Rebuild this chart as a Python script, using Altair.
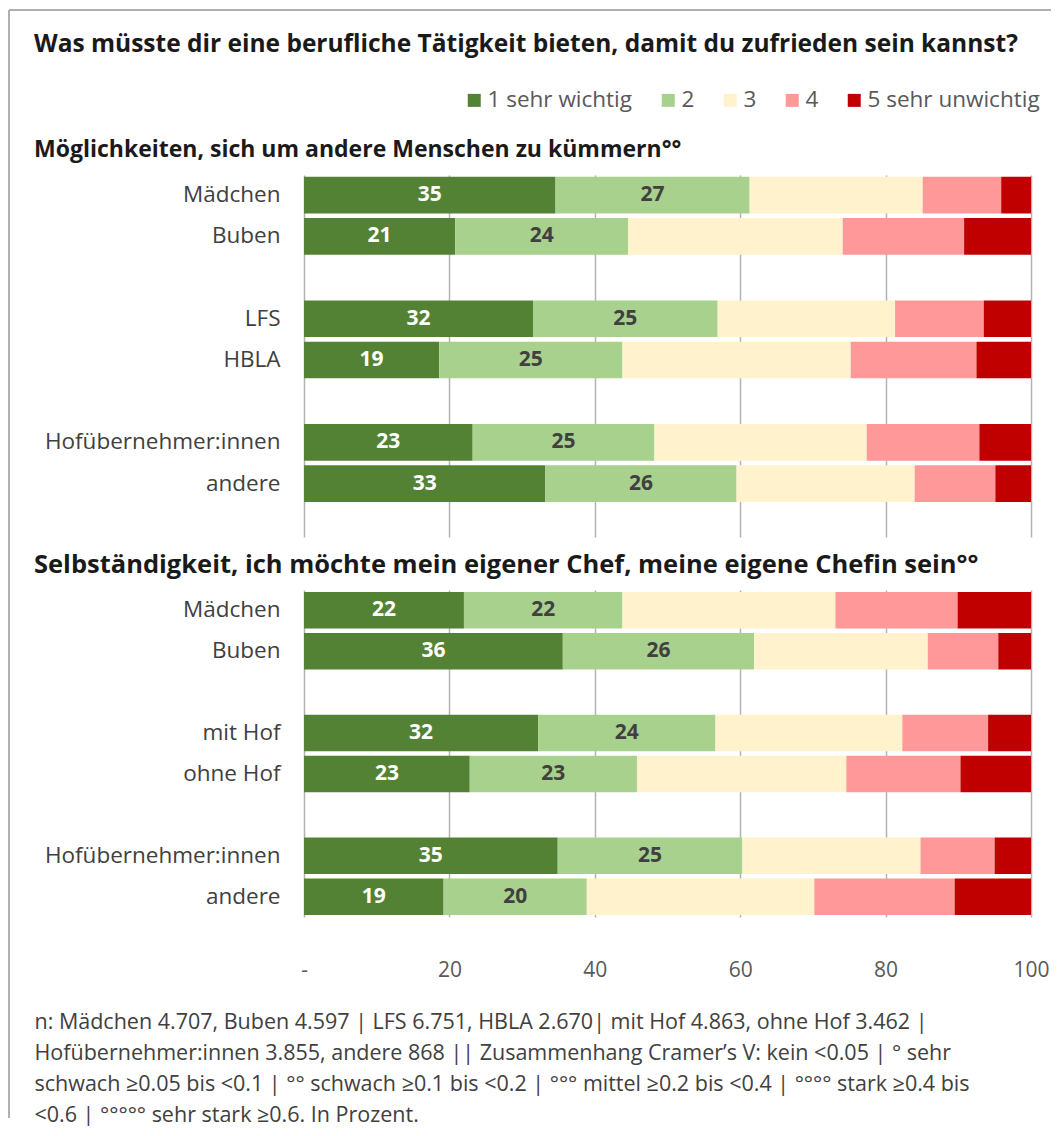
import altair as alt
import pandas as pd

# ---------------- data ----------------
categories = ["1 sehr wichtig", "2", "3", "4", "5 sehr unwichtig"]
colors = ["#548235", "#a9d18e", "#fff2cc", "#ff9999", "#c00000"]

title_main = "Was müsste dir eine berufliche Tätigkeit bieten, damit du zufrieden sein kannst?"
title_p1 = "Möglichkeiten, sich um andere Menschen zu kümmern°°"
title_p2 = "Selbständigkeit, ich möchte mein eigener Chef, meine eigene Chefin sein°°"

rows1 = ["Mädchen", "Buben", "_g1", "LFS", "HBLA", "_g2", "Hofübernehmer:innen", "andere"]
groups1 = ["Mädchen", "Buben", "LFS", "HBLA", "Hofübernehmer:innen", "andere"]
p1_v1 = [34.6, 20.8, 31.5, 18.6, 23.2, 33.2]
p1_v2 = [26.7, 23.8, 25.4, 25.2, 25.0, 26.3]
p1_v3 = [23.8, 29.5, 24.4, 31.4, 29.2, 24.5]
p1_v4 = [10.8, 16.7, 12.2, 17.3, 15.5, 11.1]
p1_v5 = [4.1, 9.2, 6.5, 7.5, 7.1, 4.9]

rows2 = ["Mädchen", "Buben", "_g1", "mit Hof", "ohne Hof", "_g2", "Hofübernehmer:innen", "andere"]
groups2 = ["Mädchen", "Buben", "mit Hof", "ohne Hof", "Hofübernehmer:innen", "andere"]
p2_v1 = [22.0, 35.6, 32.2, 22.8, 34.9, 19.2]
p2_v2 = [21.8, 26.3, 24.4, 23.0, 25.4, 19.7]
p2_v3 = [29.3, 23.9, 25.7, 28.8, 24.5, 31.3]
p2_v4 = [16.8, 9.7, 11.8, 15.7, 10.2, 19.3]
p2_v5 = [10.1, 4.5, 5.9, 9.7, 5.0, 10.5]

x_ticks = [0, 20, 40, 60, 80, 100]

footnote = [
    "n: Mädchen 4.707, Buben 4.597 | LFS 6.751, HBLA 2.670| mit Hof 4.863, ohne Hof 3.462 |",
    "Hofübernehmer:innen 3.855, andere 868 || Zusammenhang Cramer’s V: kein <0.05 | ° sehr",
    "schwach ≥0.05 bis <0.1 | °° schwach ≥0.1 bis <0.2 | °°° mittel ≥0.2 bis <0.4 | °°°° stark ≥0.4 bis",
    "<0.6 | °°°°° sehr stark ≥0.6. In Prozent.",
]

FONT = "Open Sans"
W = 727


def build_df(groups, series):
    recs = []
    for i, g in enumerate(groups):
        start = 0.0
        for k, cat in enumerate(categories):
            v = series[k][i]
            recs.append(dict(group=g, cat=cat, order=k, start=start, end=start + v,
                             mid=start + v / 2, value=v,
                             label=str(int(v + 0.5)) if k < 2 else ""))
            start += v
    return pd.DataFrame(recs)


df1 = build_df(groups1, [p1_v1, p1_v2, p1_v3, p1_v4, p1_v5])
df2 = build_df(groups2, [p2_v1, p2_v2, p2_v3, p2_v4, p2_v5])

color_scale = alt.Scale(domain=categories, range=colors)


def panel(df, rows, height, po, align, xaxis, title):
    yenc = alt.Y(
        "group:N", sort=rows,
        scale=alt.Scale(domain=rows, paddingInner=0.11, paddingOuter=po, align=align),
        axis=alt.Axis(title=None, ticks=False, domain=False,
                      labelExpr="indexof(datum.value, '_') == 0 ? '' : datum.value",
                      labelFontSize=22.5, labelFont=FONT, labelColor="#404040",
                      labelPadding=24, labelLimit=400),
    )
    bars = alt.Chart(df).mark_bar(strokeWidth=0).encode(
        x=alt.X("start:Q", scale=alt.Scale(domain=[0, 100], nice=False), axis=xaxis),
        x2="end:Q",
        y=yenc,
        color=alt.Color("cat:N", scale=color_scale, legend=None),
    )
    labels = alt.Chart(df).transform_filter("datum.order < 2").mark_text(
        font=FONT, fontSize=21, fontWeight="bold"
    ).encode(
        x="mid:Q",
        y=alt.Y("group:N", sort=rows),
        text="label:N",
        color=alt.condition("datum.order == 0", alt.value("white"), alt.value("#404040")),
    )
    return alt.layer(bars, labels).properties(width=W, height=height, title=title)


xaxis1 = alt.Axis(values=x_ticks, labels=False, ticks=False, domain=False, grid=True,
                  gridColor="#b3b3b3", gridWidth=1.5, title=None)
xaxis2 = alt.Axis(values=x_ticks, ticks=False, domain=False, grid=True,
                  gridColor="#b3b3b3", gridWidth=1.5,
                  labelExpr="datum.value == 0 ? '-' : datum.label",
                  labelFontSize=21, labelFont=FONT, labelColor="#595959",
                  labelPadding=42, labelFlush=False,
                  title=footnote, titleFont=FONT, titleFontSize=21.5, titleFontWeight="normal",
                  titleColor="#404040", titleAnchor="start", titleAlign="left",
                  titleBaseline="top", titleX=-270, titleY=94, titleLineHeight=31)

t1 = alt.TitleParams(text=title_main, subtitle=title_p1, anchor="start", frame="group",
                     dx=-270, offset=12, font=FONT, fontSize=24.5, fontWeight="bold",
                     color="#1a1a1a", subtitleFont=FONT, subtitleFontSize=23,
                     subtitleFontWeight="bold", subtitleColor="#1a1a1a", subtitlePadding=82)
t2 = alt.TitleParams(text=title_p2, anchor="start", frame="group", dx=-270, offset=12,
                     font=FONT, fontSize=25.5, fontWeight="bold", color="#1a1a1a")

panel1 = panel(df1, rows1, 362, 0.448, 0.05, xaxis1, t1)
panel2 = panel(df2, rows2, 327, 0.05, 0.5, xaxis2, t2)

# frame + legend cell
leg_df = pd.DataFrame({"cat": categories})
legend_marks = alt.Chart(leg_df).mark_rect().encode(
    x=alt.value(0), x2=alt.value(0), y=alt.value(0), y2=alt.value(0),
    color=alt.Color("cat:N", scale=color_scale, sort=categories,
                    legend=alt.Legend(orient="none", legendX=159, legendY=-881,
                                      direction="horizontal", title=None,
                                      labelFont=FONT, labelFontSize=22.5, labelColor="#595959",
                                      labelLimit=400,
                                      symbolType="square", symbolSize=169,
                                      symbolStrokeWidth=0, columnPadding=24,
                                      labelOffset=2, padding=0)),
)
one = pd.DataFrame({"k": [0]})
frame_left = alt.Chart(one).mark_rule(color="#b0b0b0", strokeWidth=2).encode(
    x=alt.value(-295), y=alt.value(-960), y2=alt.value(148))
frame_top = alt.Chart(one).mark_rule(color="#b0b0b0", strokeWidth=2).encode(
    x=alt.value(-295), x2=alt.value(747), y=alt.value(-960))
cell3 = alt.layer(legend_marks, frame_left, frame_top).properties(width=1, height=1)

chart = alt.vconcat(panel1, panel2, cell3, spacing=53, bounds="flush").resolve_scale(
    color="independent").resolve_legend(color="independent").properties(
    padding={"left": 0, "top": 1, "right": 0, "bottom": 0}).configure_view(strokeWidth=0)

chart.save("out.html", embed_options={"renderer": "svg", "actions": False})
